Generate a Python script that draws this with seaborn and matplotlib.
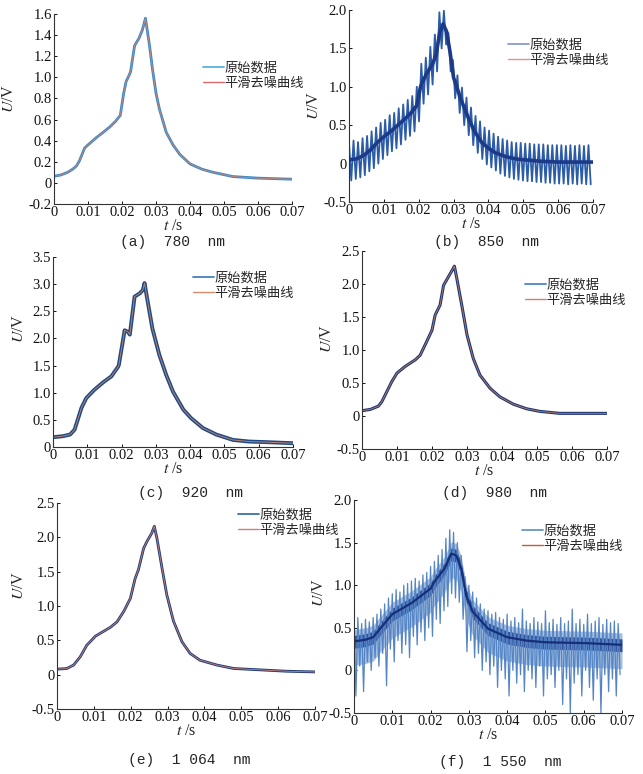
import numpy as np
import pandas as pd
import matplotlib
matplotlib.use("Agg")
import matplotlib.pyplot as plt
import seaborn as sns
from matplotlib.lines import Line2D

sns.set_style("ticks")
plt.rcParams['font.family'] = ['Liberation Serif', 'Noto Sans CJK SC', 'DejaVu Sans']
plt.rcParams['mathtext.fontset'] = 'stix'
plt.rcParams['axes.unicode_minus'] = False

# ---------------- data ----------------
legend_labels = ['原始数据', '平滑去噪曲线']
x_ticks = [0, 0.01, 0.02, 0.03, 0.04, 0.05, 0.06, 0.07]
x_ticklabels = ['0', '0.01', '0.02', '0.03', '0.04', '0.05', '0.06', '0.07']

# (a) 780 nm
t_a = [0, 0.002, 0.004, 0.0055, 0.0066, 0.0075, 0.0085, 0.009, 0.010, 0.0125, 0.0145,
       0.0164, 0.018, 0.019, 0.0195, 0.0205, 0.0212, 0.0218, 0.0225, 0.0237, 0.025, 0.026,
       0.0269, 0.0281, 0.029, 0.030, 0.031, 0.033, 0.035, 0.037, 0.040, 0.0435, 0.0468,
       0.0526, 0.060, 0.065, 0.070]
u_a = [0.063, 0.075, 0.10, 0.13, 0.16, 0.21, 0.29, 0.33, 0.36, 0.43, 0.48,
       0.53, 0.58, 0.62, 0.64, 0.85, 0.96, 1.00, 1.05, 1.30, 1.37, 1.45,
       1.56, 1.30, 1.07, 0.85, 0.70, 0.48, 0.36, 0.27, 0.18, 0.13, 0.10,
       0.06, 0.045, 0.04, 0.035]

# (b) 850 nm
t_b = [0, 0.002, 0.004, 0.006, 0.008, 0.010, 0.012, 0.014, 0.016, 0.018, 0.0195, 0.0205,
       0.022, 0.024, 0.025, 0.026, 0.027, 0.028, 0.029, 0.030, 0.032, 0.034, 0.036, 0.038,
       0.040, 0.042, 0.045, 0.048, 0.050, 0.055, 0.060, 0.070]
u_b = [0.05, 0.06, 0.10, 0.17, 0.27, 0.35, 0.42, 0.50, 0.58, 0.67, 0.76, 1.00,
       1.15, 1.30, 1.42, 1.70, 1.82, 1.72, 1.45, 1.12, 0.85, 0.62, 0.42, 0.28,
       0.20, 0.14, 0.09, 0.06, 0.05, 0.03, 0.02, 0.02]
raw_b_hi = [0.27, 0.30, 0.28, 0.33, 0.36, 0.42, 0.47, 0.53, 0.57, 0.63,
            0.66, 0.72, 0.77, 0.83, 0.88, 1.00, 1.30, 1.38, 1.52, 1.68,
            1.97, 1.99, 1.70, 1.35, 1.15, 0.99, 0.86, 0.73, 0.62, 0.55,
            0.47, 0.43, 0.39, 0.35, 0.32, 0.30, 0.28, 0.27, 0.27, 0.26,
            0.26, 0.25, 0.25, 0.25, 0.24, 0.24, 0.24, 0.24, 0.23, 0.24,
            0.23, 0.24, 0.23, 0.24]
raw_b_lo = [-0.22, -0.20, -0.18, -0.15, -0.10, -0.06, 0.00, 0.06, 0.11, 0.16,
            0.20, 0.25, 0.31, 0.36, 0.42, 0.55, 0.78, 0.90, 1.03, 1.20,
            1.50, 1.55, 1.20, 0.85, 0.66, 0.50, 0.37, 0.24, 0.14, 0.06,
            -0.01, -0.05, -0.09, -0.13, -0.16, -0.18, -0.20, -0.21, -0.22, -0.23,
            -0.23, -0.24, -0.24, -0.25, -0.25, -0.26, -0.26, -0.26, -0.27, -0.26,
            -0.27, -0.26, -0.27, -0.27]

# (c) 920 nm
t_c = [0, 0.003, 0.005, 0.0063, 0.0083, 0.0097, 0.012, 0.0146, 0.017, 0.019, 0.0192,
       0.0209, 0.0219, 0.0224, 0.0238, 0.0253, 0.0262, 0.0267, 0.0272, 0.029, 0.031,
       0.033, 0.035, 0.038, 0.0403, 0.0437, 0.0476, 0.0525, 0.0573, 0.062, 0.070]
u_c = [0.18, 0.20, 0.23, 0.32, 0.72, 0.90, 1.05, 1.19, 1.30, 1.48, 1.51,
       2.15, 2.12, 2.07, 2.77, 2.83, 2.89, 3.02, 2.83, 2.18, 1.70,
       1.33, 1.02, 0.69, 0.53, 0.35, 0.23, 0.13, 0.10, 0.09, 0.07]

# (d) 980 nm
t_d = [0, 0.0024, 0.0047, 0.0057, 0.0071, 0.0085, 0.010, 0.0123, 0.0152, 0.0166, 0.0185,
       0.020, 0.0209, 0.0223, 0.0233, 0.0247, 0.0261, 0.0264, 0.027, 0.0285, 0.030, 0.0318,
       0.0337, 0.0366, 0.0394, 0.0432, 0.047, 0.0508, 0.0565, 0.0641, 0.070]
u_d = [0.08, 0.10, 0.15, 0.22, 0.37, 0.52, 0.65, 0.75, 0.85, 0.92, 1.13,
       1.30, 1.53, 1.68, 1.98, 2.11, 2.24, 2.27, 2.11, 1.68, 1.23, 0.87,
       0.62, 0.42, 0.29, 0.18, 0.11, 0.07, 0.04, 0.04, 0.04]

# (e) 1 064 nm
t_e = [0, 0.0027, 0.0045, 0.0063, 0.0081, 0.009, 0.0104, 0.0126, 0.0145, 0.0163, 0.0181,
       0.0199, 0.0212, 0.0221, 0.0235, 0.0244, 0.0257, 0.0264, 0.0271, 0.0285, 0.0298,
       0.0316, 0.0339, 0.0361, 0.0388, 0.0434, 0.0479, 0.0551, 0.0623, 0.070]
u_e = [0.08, 0.09, 0.14, 0.26, 0.43, 0.48, 0.56, 0.63, 0.69, 0.77, 0.92,
       1.11, 1.40, 1.53, 1.84, 1.94, 2.06, 2.16, 1.99, 1.55, 1.16,
       0.78, 0.48, 0.31, 0.21, 0.14, 0.09, 0.07, 0.05, 0.04]

# (f) 1 550 nm
t_f = [0, 0.003, 0.005, 0.007, 0.010, 0.015, 0.020, 0.021, 0.0237, 0.0254, 0.0267,
       0.028, 0.0293, 0.031, 0.035, 0.040, 0.045, 0.050, 0.0607, 0.070]
u_f = [0.34, 0.36, 0.39, 0.50, 0.66, 0.79, 0.96, 1.04, 1.20, 1.37, 1.35,
       1.20, 0.88, 0.69, 0.49, 0.39, 0.35, 0.33, 0.32, 0.30]
band_f_lo = [0.06, 0.08, 0.11, 0.22, 0.38, 0.51, 0.68, 0.76, 0.92, 1.09, 1.07,
             0.92, 0.60, 0.41, 0.21, 0.11, 0.07, 0.05, 0.04, 0.02]
band_f_hi = [0.48, 0.50, 0.53, 0.64, 0.80, 0.93, 1.10, 1.18, 1.34, 1.51, 1.49,
             1.34, 1.02, 0.83, 0.63, 0.53, 0.49, 0.47, 0.46, 0.44]
core_f_lo = [0.26, 0.28, 0.31, 0.42, 0.58, 0.71, 0.88, 0.96, 1.12, 1.29, 1.27,
             1.12, 0.80, 0.61, 0.41, 0.31, 0.27, 0.25, 0.24, 0.22]
core_f_hi = [0.41, 0.43, 0.46, 0.57, 0.73, 0.86, 1.03, 1.11, 1.27, 1.44, 1.42,
             1.27, 0.95, 0.76, 0.56, 0.46, 0.42, 0.40, 0.39, 0.37]
raw_f_hi = [0.58, 0.62, 0.55, 0.60, 0.57, 0.62, 0.66, 0.72, 0.78, 0.85,
            0.90, 0.95, 0.92, 1.00, 1.02, 1.05, 1.08, 1.05, 1.12, 1.15,
            1.22, 1.28, 1.35, 1.42, 1.55, 1.65, 1.62, 1.50, 1.35, 1.10,
            1.00, 0.92, 0.85, 0.78, 0.72, 0.70, 0.66, 0.68, 0.62, 0.60,
            0.66, 0.58, 0.62, 0.56, 0.72, 0.58, 0.55, 0.62, 0.57, 0.55,
            0.70, 0.56, 0.60, 0.54, 0.62, 0.55, 0.58, 0.72, 0.55, 0.60,
            0.54, 0.66, 0.55, 0.58, 0.62, 0.54, 0.60, 0.56, 0.58, 0.55]
raw_f_lo = [-0.30, 0.05, -0.25, 0.10, 0.00, 0.15, 0.05, 0.20, -0.18, 0.25,
            0.10, 0.35, 0.20, 0.30, 0.15, 0.40, 0.30, 0.45, 0.35, 0.50,
            0.40, 0.60, 0.55, 0.70, 0.75, 0.90, 0.85, 0.80, 0.60, 0.22,
            0.35, 0.15, 0.20, 0.00, 0.10, -0.05, 0.05, -0.20, 0.00, -0.10,
            -0.30, 0.00, -0.15, -0.05, -0.25, 0.00, -0.10, -0.20, 0.05, -0.30,
            -0.10, -0.05, -0.20, 0.00, -0.40, -0.10, -0.50, -0.15, -0.05, -0.30,
            0.00, -0.20, -0.35, -0.10, -0.50, -0.05, -0.25, -0.10, -0.30, -0.05]

# ---------------- layout ----------------
W, H = 643, 774
fig = plt.figure(figsize=(W / 100, H / 100), dpi=100)


def add_ax(l, t, r, b):
    return fig.add_axes([l / W, 1 - b / H, (r - l) / W, (b - t) / H])


def style(ax, box, ylim, yticks, yticklabels, ylab_px, leg_px, c_raw, c_sm, cap, cap_px):
    l, t, r, b = box
    ax.set_xlim(0, 0.07)
    ax.set_ylim(*ylim)
    ax.set_xticks(x_ticks)
    ax.set_xticklabels(x_ticklabels)
    ax.set_yticks(yticks)
    ax.set_yticklabels(yticklabels)
    ax.tick_params(direction='in', length=2.5, width=0.7, labelsize=10.5, pad=1.5, colors='#111111')
    sns.despine(ax=ax)
    for s in ('left', 'bottom'):
        ax.spines[s].set_linewidth(0.8)
        ax.spines[s].set_color('#333333')
    ax.set_xlabel('$t$ /s', fontsize=11.5, labelpad=-1)
    ax.set_ylabel('$U$/V', fontsize=11.5)
    ax.yaxis.set_label_coords((ylab_px[0] - l) / (r - l), 1 - (ylab_px[1] - t) / (b - t))
    handles = [Line2D([], [], color=c_raw, lw=1.3), Line2D([], [], color=c_sm, lw=1.0)]
    ax.legend(handles=handles, labels=legend_labels, loc='upper left',
              bbox_to_anchor=(leg_px[0] / W, 1 - leg_px[1] / H), bbox_transform=fig.transFigure,
              frameon=False, prop={'family': 'Noto Sans CJK SC', 'size': 9.5},
              handlelength=1.6, handletextpad=0.0, borderpad=0, borderaxespad=0,
              labelspacing=0.15)
    fig.text(cap_px[0] / W, 1 - cap_px[1] / H, cap, ha='center', va='center',
             family='Liberation Mono', fontsize=10.5)


def smooth_panel(ax, t, u, c_raw, lw_raw, c_sm):
    sns.lineplot(x=t, y=u, ax=ax, color=c_raw, linewidth=lw_raw, estimator=None, sort=False)
    sns.lineplot(x=t, y=u, ax=ax, color=c_sm, linewidth=0.7, estimator=None, sort=False, alpha=0.8)


def zigzag(hi, lo):
    n = len(hi)
    step = 0.07 / n
    ts, vs = [], []
    for k in range(n):
        ts += [k * step, k * step + step / 2]
        vs += [hi[k], lo[k]]
    return ts, vs


# (a)
box_a = (54, 14, 292, 204)
ax = add_ax(*box_a)
smooth_panel(ax, t_a, u_a, '#3c86c4', 2.0, '#d88a6e')
style(ax, box_a, (-0.2, 1.6), [-0.2, 0, 0.2, 0.4, 0.6, 0.8, 1.0, 1.2, 1.4, 1.6],
      ['-0.2', '0', '0.2', '0.4', '0.6', '0.8', '1.0', '1.2', '1.4', '1.6'],
      (17, 98), (203, 62), '#5ab0e2', '#e06a6a', '(a)  780  nm', (173, 242))

# (b)
box_b = (349, 10, 593, 202)
ax = add_ax(*box_b)
tz, vz = zigzag(raw_b_hi, raw_b_lo)
sns.lineplot(x=tz, y=vz, ax=ax, color='#2c5ca8', linewidth=1.3, estimator=None, sort=False)
sns.lineplot(x=t_b, y=u_b, ax=ax, color='#e08a80', linewidth=0.7, estimator=None, sort=False)
sns.lineplot(x=t_b, y=u_b, ax=ax, color='#1c3a88', linewidth=2.6, estimator=None, sort=False)
style(ax, box_b, (-0.5, 2.0), [-0.5, 0, 0.5, 1.0, 1.5, 2.0],
      ['-0.5', '0', '0.5', '1.0', '1.5', '2.0'],
      (322, 105), (508, 39), '#8a9ccc', '#e89088', '(b)  850  nm', (487, 242))

# (c)
box_c = (53, 257, 293, 447)
ax = add_ax(*box_c)
smooth_panel(ax, t_c, u_c, '#1f4a86', 2.8, '#d9906e')
style(ax, box_c, (0, 3.5), [0, 0.5, 1.0, 1.5, 2.0, 2.5, 3.0, 3.5],
      ['0', '0.5', '1.0', '1.5', '2.0', '2.5', '3.0', '3.5'],
      (27, 328), (193, 272), '#4a80b8', '#d98a6a', '(c)  920  nm', (190, 493))

# (d)
box_d = (362, 251, 607, 449)
ax = add_ax(*box_d)
smooth_panel(ax, t_d, u_d, '#1c3474', 2.2, '#c98a6a')
style(ax, box_d, (-0.5, 2.5), [-0.5, 0, 0.5, 1.0, 1.5, 2.0, 2.5],
      ['-0.5', '0', '0.5', '1.0', '1.5', '2.0', '2.5'],
      (335, 338), (525, 279), '#4d86c4', '#c9896a', '(d)  980  nm', (494, 493))

# (e)
box_e = (57, 503, 315, 709)
ax = add_ax(*box_e)
smooth_panel(ax, t_e, u_e, '#1f3b72', 2.0, '#e08a80')
style(ax, box_e, (-0.5, 2.5), [-0.5, 0, 0.5, 1.0, 1.5, 2.0, 2.5],
      ['-0.5', '0', '0.5', '1.0', '1.5', '2.0', '2.5'],
      (27, 585), (238, 509), '#3d6fa8', '#e07a7a', '(e)  1 064  nm', (189, 760))

# (f)
box_f = (354, 500, 622, 713)
ax = add_ax(*box_f)
ax.fill_between(t_f, band_f_lo, band_f_hi, color='#5b8bc8', alpha=0.55, linewidth=0)
tz, vz = zigzag(raw_f_hi, raw_f_lo)
sns.lineplot(x=tz, y=vz, ax=ax, color='#5585c5', linewidth=0.9, estimator=None, sort=False)
ax.fill_between(t_f, core_f_lo, core_f_hi, color='#1f3f8f', alpha=0.85, linewidth=0)
sns.lineplot(x=t_f, y=u_f, ax=ax, color='#152f78', linewidth=1.6, estimator=None, sort=False)
style(ax, box_f, (-0.5, 2.0), [-0.5, 0, 0.5, 1.0, 1.5, 2.0],
      ['-0.5', '0', '0.5', '1.0', '1.5', '2.0'],
      (327, 592), (522, 525), '#6a96c8', '#c85a3a', '(f)  1 550  nm', (500, 762))

fig.savefig('out.png', dpi=100)
